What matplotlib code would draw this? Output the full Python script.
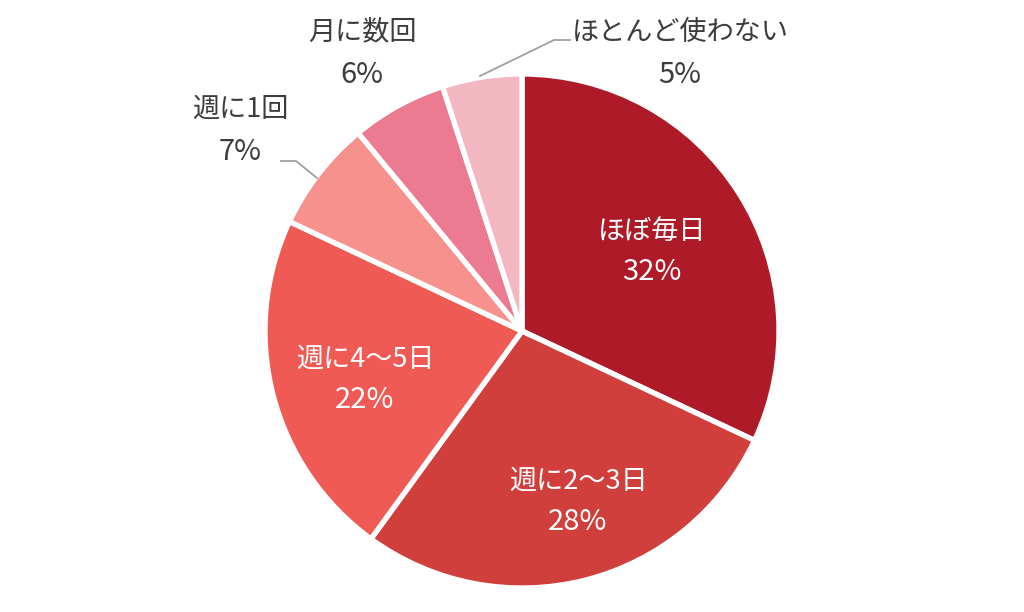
import matplotlib
matplotlib.use("Agg")
import matplotlib.pyplot as plt

plt.rcParams['font.family'] = ['Noto Sans CJK JP', 'DejaVu Sans']

# data
categories = ["ほぼ毎日", "週に2～3日", "週に4～5日", "週に1回", "月に数回", "ほとんど使わない"]
shares = [32, 28, 22, 7, 6, 5]
colors = ["#ae1a27", "#d03f3b", "#f05a55", "#f7918e", "#ec7b92", "#f2b7c0"]

H = 612

def py(y):
    # pixel row -> data y
    return H - y

fig = plt.figure(figsize=(10.24, 6.12), dpi=100)
ax = fig.add_axes([0, 0, 1, 1])

ax.pie(shares, colors=colors, startangle=90, counterclock=False,
       center=(522, py(331)), radius=257,
       wedgeprops=dict(edgecolor="white", linewidth=3.8))
ax.set_xlim(0, 1024)
ax.set_ylim(0, H)
ax.set_aspect("equal")
ax.axis("off")

fs = 19.5
fs_pct = 21

# labels inside the big slices
inside = {0: (652, 251), 1: (578, 501), 2: (365, 379)}
for i, (x, y) in inside.items():
    ax.text(x, py(y - 20), categories[i], color="white", fontsize=fs,
            ha="center", va="center")
    ax.text(x, py(y + 21), f"{shares[i]}%", color="white", fontsize=fs_pct,
            ha="center", va="center")

# labels outside the small slices
outside = {3: (240, 130), 4: (362, 53), 5: (680, 53)}
for i, (x, y) in outside.items():
    ax.text(x, py(y - 21), categories[i], color="#3c3c3c", fontsize=fs,
            ha="center", va="center")
    ax.text(x, py(y + 22), f"{shares[i]}%", color="#3c3c3c", fontsize=fs_pct,
            ha="center", va="center")

# leader lines
ax.plot([281, 296, 317], [py(161), py(161), py(178)], color="#a0a0a0", lw=1.3)
ax.plot([570, 554, 480], [py(40), py(40), py(76)], color="#a0a0a0", lw=1.3)

fig.savefig("out.png", dpi=100, facecolor="white")
